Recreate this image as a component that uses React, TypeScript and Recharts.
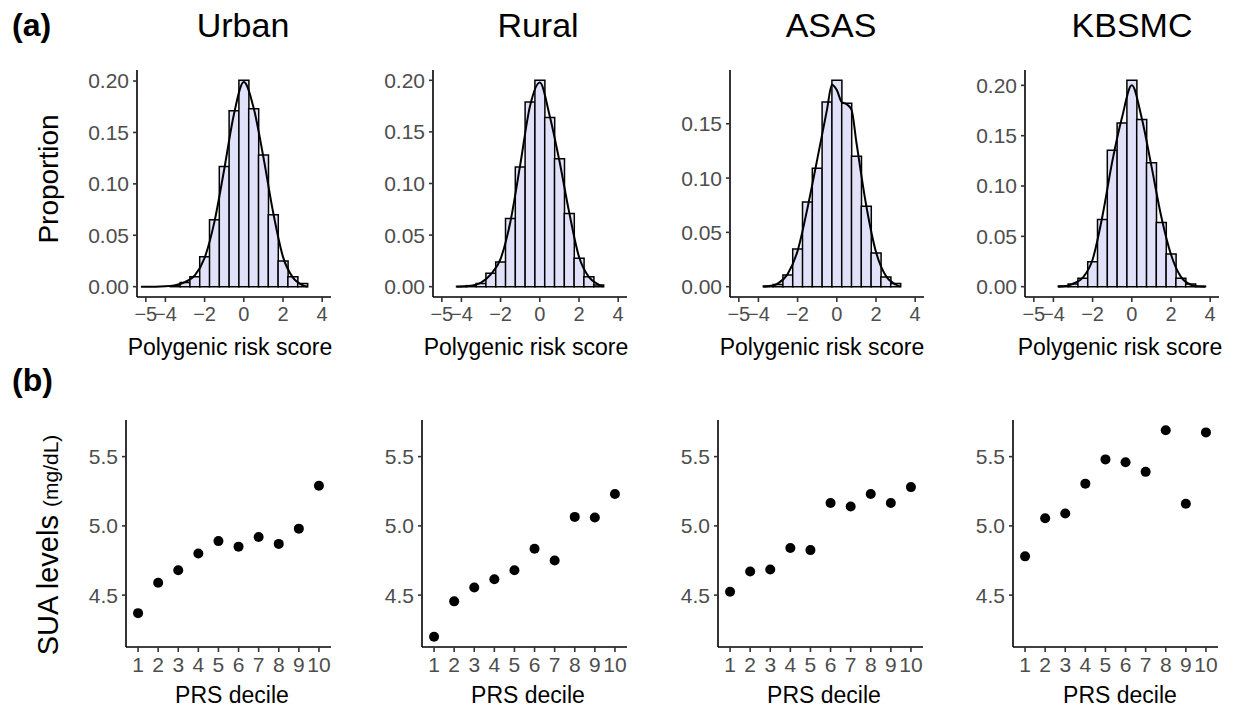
import React from 'react';
import { ComposedChart, LineChart, ScatterChart, Bar, Line, Scatter, XAxis, YAxis } from 'recharts';

const FONT = '"Liberation Sans", Arial, Helvetica, sans-serif';

// ---------- (a) histogram data ----------
const panelTitles = ['Urban', 'Rural', 'ASAS', 'KBSMC'];
const binCenters = [-5, -4.5, -4, -3.5, -3, -2.5, -2, -1.5, -1, -0.5, 0, 0.5, 1, 1.5, 2, 2.5, 3, 3.5];
const urbanBins = [0, 0, 0, 0.0008, 0.004, 0.0097, 0.029, 0.065, 0.117, 0.171, 0.2007, 0.173, 0.128, 0.07, 0.025, 0.0097, 0.003, 0];
const ruralBins = [0, 0, 0.0003, 0.001, 0.003, 0.013, 0.024, 0.066, 0.116, 0.179, 0.2, 0.164, 0.124, 0.071, 0.0275, 0.0097, 0.0016, 0];
const asasBins = [0, 0, 0, 0.0006, 0.002, 0.0107, 0.0346, 0.078, 0.109, 0.17, 0.19, 0.169, 0.12, 0.074, 0.031, 0.009, 0.003, 0];
const kbsmcBins = [0, 0, 0, 0.0007, 0.0026, 0.0083, 0.0248, 0.0668, 0.1355, 0.1626, 0.205, 0.166, 0.123, 0.0638, 0.0324, 0.0083, 0.0026, 0.0005];

const urbanDensX = [-5.25, -4.5, -4, -3.5, -3, -2.5, -2, -1.5, -1, -0.5, 0, 0.5, 1, 1.5, 2, 2.5, 3, 3.25];
const urbanDensY = [0, 0, 0.0003, 0.0015, 0.0045, 0.011, 0.028, 0.063, 0.114, 0.168, 0.199, 0.174, 0.126, 0.072, 0.029, 0.009, 0.0015, 0];
const ruralDensX = [-4.25, -3.75, -3.25, -3, -2.5, -2, -1.5, -1, -0.5, 0, 0.5, 1, 1.5, 2, 2.5, 3, 3.25];
const ruralDensY = [0, 0.0003, 0.002, 0.004, 0.012, 0.027, 0.063, 0.118, 0.175, 0.198, 0.166, 0.122, 0.072, 0.029, 0.0095, 0.002, 0];
const asasDensX = [-3.75, -3.25, -3, -2.5, -2, -1.5, -1, -0.5, -0.25, 0, 0.25, 0.5, 0.75, 1, 1.5, 2, 2.5, 3, 3.25];
const asasDensY = [0, 0.001, 0.003, 0.012, 0.033, 0.072, 0.117, 0.163, 0.186, 0.181, 0.17, 0.168, 0.163, 0.133, 0.075, 0.032, 0.01, 0.002, 0];
const kbsmcDensX = [-3.75, -3.25, -3, -2.5, -2, -1.5, -1, -0.5, 0, 0.5, 1, 1.5, 2, 2.5, 3, 3.25, 3.75];
const kbsmcDensY = [0, 0.001, 0.003, 0.009, 0.027, 0.07, 0.124, 0.168, 0.2, 0.168, 0.12, 0.07, 0.032, 0.01, 0.002, 0.0005, 0];

const prsTicks = [-5, -4, -2, 0, 2, 4];
const prsDomain = [-5.45, 4.45];
const propTicksFull = [0, 0.05, 0.1, 0.15, 0.2];
const propTicksShort = [0, 0.05, 0.1, 0.15];

// ---------- (b) SUA by PRS decile ----------
const deciles = [1, 2, 3, 4, 5, 6, 7, 8, 9, 10];
const urbanSUA = [4.37, 4.59, 4.68, 4.8, 4.89, 4.85, 4.92, 4.87, 4.98, 5.29];
const ruralSUA = [4.2, 4.455, 4.555, 4.615, 4.68, 4.835, 4.75, 5.065, 5.06, 5.23];
const asasSUA = [4.525, 4.67, 4.685, 4.84, 4.825, 5.165, 5.14, 5.23, 5.165, 5.28];
const kbsmcSUA = [4.78, 5.055, 5.09, 5.305, 5.48, 5.46, 5.39, 5.69, 5.16, 5.675];
const suaTicks = [4.5, 5.0, 5.5];

const allSUA = [...urbanSUA, ...ruralSUA, ...asasSUA, ...kbsmcSUA];
const suaMin = Math.min(...allSUA);
const suaMax = Math.max(...allSUA);
const suaPad = (suaMax - suaMin) * 0.05;
const suaDomain = [suaMin - suaPad, suaMax + suaPad];

const axisStyle = { stroke: '#000', strokeWidth: 1.6 };
const tickLineStyle = { stroke: '#333', strokeWidth: 1.6 };
const tickText = { fill: '#4D4D4D', fontSize: 21, fontFamily: FONT };
const prsTickText = { fill: '#4D4D4D', fontSize: 20, fontFamily: FONT };

const fmtPRS = (v: number) => (v < 0 ? '\u2212' + Math.abs(v) : String(v));

function HistPanel({ bins, densX, densY, left, yTicks }: any) {
  const barData = binCenters.map((x, i) => ({ x, p: bins[i] }));
  const lineData = densX.map((x: number, i: number) => ({ x, d: densY[i] }));
  const maxV = Math.max(...bins);
  const pad = maxV * 0.05;
  const yDomain = [-pad, maxV + pad];
  return (
    <>
      <div style={{ position: 'absolute', left, top: 60 }}>
        <ComposedChart width={274} height={287} data={barData} margin={{ top: 10, right: 10, bottom: 0, left: 0 }} barCategoryGap={0} barGap={0}>
          <XAxis dataKey="x" type="number" domain={prsDomain} ticks={prsTicks} interval={0} allowDataOverflow height={50}
            tickSize={5} tickMargin={5} axisLine={axisStyle} tickLine={tickLineStyle} tick={prsTickText} tickFormatter={fmtPRS} />
          <YAxis type="number" domain={yDomain} ticks={yTicks} interval={0} allowDataOverflow width={70}
            tickSize={4} tickMargin={4} axisLine={axisStyle} tickLine={tickLineStyle} tick={tickText}
            tickFormatter={(v: number) => v.toFixed(2)} />
          <Bar dataKey="p" fill="#E1E1F9" stroke="#000" strokeWidth={1.5} isAnimationActive={false} />
        </ComposedChart>
      </div>
      <div style={{ position: 'absolute', left, top: 60 }}>
        <LineChart width={274} height={287} data={lineData} margin={{ top: 10, right: 10, bottom: 50, left: 70 }}>
          <XAxis dataKey="x" type="number" domain={prsDomain} allowDataOverflow hide />
          <YAxis type="number" domain={yDomain} allowDataOverflow hide />
          <Line dataKey="d" type="monotone" stroke="#000" strokeWidth={2} dot={false} isAnimationActive={false} />
        </LineChart>
      </div>
    </>
  );
}

const dotShape = (props: any) => <circle cx={props.cx} cy={props.cy} r={5} fill="#000" />;

function DotPanel({ values, left }: any) {
  const data = deciles.map((d, i) => ({ d, v: values[i] }));
  return (
    <div style={{ position: 'absolute', left, top: 410 }}>
      <ScatterChart width={285} height={287} margin={{ top: 10, right: 10, bottom: 0, left: 0 }}>
        <XAxis dataKey="d" type="number" domain={[0.4, 10.6]} ticks={deciles} interval={0} allowDataOverflow height={50}
          tickSize={5} tickMargin={5} axisLine={axisStyle} tickLine={tickLineStyle} tick={tickText} />
        <YAxis dataKey="v" type="number" domain={suaDomain} ticks={suaTicks} interval={0} allowDataOverflow width={70}
          tickSize={4} tickMargin={4} axisLine={axisStyle} tickLine={tickLineStyle} tick={tickText}
          tickFormatter={(v: number) => v.toFixed(1)} />
        <Scatter data={data} dataKey="v" fill="#000" shape={dotShape} isAnimationActive={false} />
      </ScatterChart>
    </div>
  );
}

const topLefts = [67, 363, 660, 955];
const bottomLefts = [56, 352, 648, 943];
const titleCenters = [243, 538, 831, 1132];
const topTitleCenters = [230, 526, 822, 1120];
const bottomTitleCenters = [232, 528, 824, 1120];

export default function App() {
  const hist = [
    { bins: urbanBins, densX: urbanDensX, densY: urbanDensY, yTicks: propTicksFull },
    { bins: ruralBins, densX: ruralDensX, densY: ruralDensY, yTicks: propTicksFull },
    { bins: asasBins, densX: asasDensX, densY: asasDensY, yTicks: propTicksShort },
    { bins: kbsmcBins, densX: kbsmcDensX, densY: kbsmcDensY, yTicks: propTicksFull },
  ];
  const sua = [urbanSUA, ruralSUA, asasSUA, kbsmcSUA];
  return (
    <div style={{ position: 'absolute', left: 0, top: 0, width: 1237, height: 708, background: '#fff', overflow: 'hidden', fontFamily: FONT }}>
      {hist.map((h, i) => (
        <HistPanel key={'h' + i} {...h} left={topLefts[i]} />
      ))}
      {sua.map((v, i) => (
        <DotPanel key={'s' + i} values={v} left={bottomLefts[i]} />
      ))}
      <svg width={1237} height={708} style={{ position: 'absolute', left: 0, top: 0, pointerEvents: 'none' }} fontFamily={FONT}>
        <text x={12} y={36} fontSize={32} fontWeight="bold" fill="#000">(a)</text>
        <text x={12} y={391} fontSize={32} fontWeight="bold" fill="#000">(b)</text>
        {panelTitles.map((t, i) => (
          <text key={t} x={titleCenters[i]} y={37} fontSize={34} textAnchor="middle" fill="#000">{t}</text>
        ))}
        {topTitleCenters.map((c, i) => (
          <text key={'pt' + i} x={c} y={355} fontSize={23} textAnchor="middle" fill="#000">Polygenic risk score</text>
        ))}
        {bottomTitleCenters.map((c, i) => (
          <text key={'bt' + i} x={c} y={703} fontSize={23} textAnchor="middle" fill="#000">PRS decile</text>
        ))}
        <text x={58} y={179} fontSize={28} textAnchor="middle" fill="#000" transform="rotate(-90, 58, 179)">Proportion</text>
        <text x={58} y={545} fontSize={29} textAnchor="middle" fill="#000" transform="rotate(-90, 58, 545)">
          SUA levels <tspan fontSize={21}>(mg/dL)</tspan>
        </text>
      </svg>
    </div>
  );
}
